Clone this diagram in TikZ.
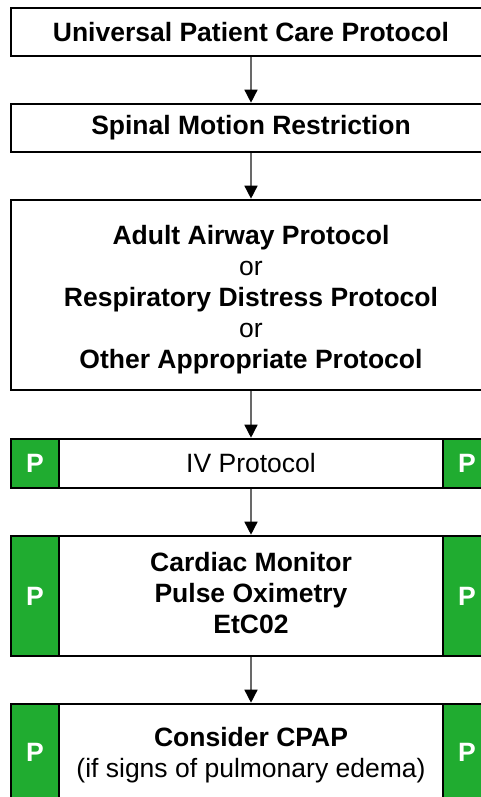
\documentclass[tikz,border=0pt]{standalone}
\usepackage{fontspec}
\setmainfont{Liberation Sans}
\usetikzlibrary{arrows.meta}
\definecolor{pgreen}{RGB}{32,172,48}
\definecolor{arrgray}{RGB}{105,105,105}
\tikzset{
  mainbox/.style={draw=black, line width=2.6pt, fill=white, align=center,
    font=\fontsize{26.5}{31}\selectfont, inner sep=0pt},
  boxtext/.style={align=center, font=\fontsize{26.5}{31}\selectfont, inner sep=0pt},
  pbox/.style={draw=black, line width=2.6pt, fill=pgreen, text=white,
    font=\fontsize{26.5}{31}\selectfont\bfseries, minimum width=48pt, inner sep=0pt},
  flow/.style={draw=arrgray, line width=1.5pt,
    -{Triangle[width=13pt,length=13pt,color=black]}}
}
\begin{document}
\begin{tikzpicture}[x=1pt,y=-1pt]
\useasboundingbox (0,0) rectangle (481,797);
\clip (0,0) rectangle (481,797);
\fill[white] (0,0) rectangle (481,797);
% box 1
\node[mainbox, minimum width=480pt, minimum height=48pt] (b1) at (251,32)
  {\bfseries Universal Patient Care Protocol};
% box 2
\node[mainbox, minimum width=480pt, minimum height=48pt] (b2) at (251,128)
  {\bfseries Spinal Motion Restriction};
% box 3
\node[mainbox, minimum width=480pt, minimum height=190pt] (b3) at (251,295) {};
\node[boxtext] (b3t) at (251,300)
  {\bfseries Adult Airway Protocol\\ or\\ \bfseries Respiratory Distress Protocol\\ or\\ \bfseries Other Appropriate Protocol};
% box 4
\node[mainbox, minimum width=384pt, minimum height=49pt] (b4) at (251,463.5)
  {IV Protocol};
\node[pbox, minimum height=49pt] (b4l) at (35,463.5) {P};
\node[pbox, minimum height=49pt] (b4r) at (467,463.5) {P};
% box 5
\node[mainbox, minimum width=384pt, minimum height=120pt] (b5) at (251,596) {};
\node[boxtext] (b5t) at (251,593)
  {\bfseries Cardiac Monitor\\ \bfseries Pulse Oximetry\\ \bfseries EtC02};
\node[pbox, minimum height=120pt] (b5l) at (35,596) {P};
\node[pbox, minimum height=120pt] (b5r) at (467,596) {P};
% box 6
\node[mainbox, minimum width=384pt, minimum height=96pt] (b6) at (251,752) {};
\node[boxtext] (b6t) at (251,755)
  {\bfseries Consider CPAP\\ (if signs of pulmonary edema)};
\node[pbox, minimum height=96pt] (b6l) at (35,752) {P};
\node[pbox, minimum height=96pt] (b6r) at (467,752) {P};
% arrows
\draw[flow] (b1.south) -- (b2.north);
\draw[flow] (b2.south) -- (b3.north);
\draw[flow] (b3.south) -- (b4.north);
\draw[flow] (b4.south) -- (b5.north);
\draw[flow] (b5.south) -- (b6.north);
\end{tikzpicture}
\end{document}
